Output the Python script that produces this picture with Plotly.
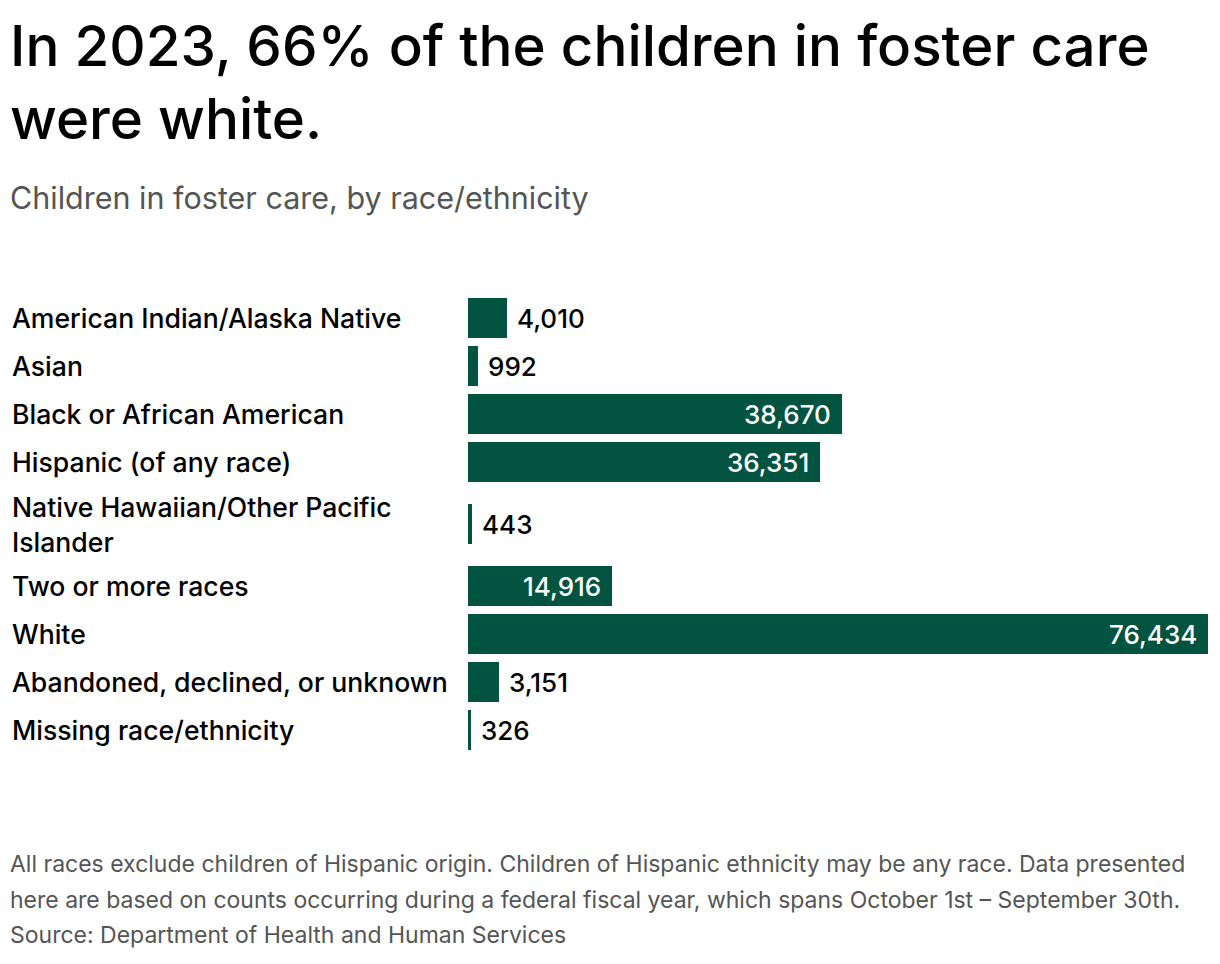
import plotly.graph_objects as go

categories = [
    "American Indian/Alaska Native",
    "Asian",
    "Black or African American",
    "Hispanic (of any race)",
    "Native Hawaiian/Other Pacific<br>Islander",
    "Two or more races",
    "White",
    "Abandoned, declined, or unknown",
    "Missing race/ethnicity",
]
values = [4010, 992, 38670, 36351, 443, 14916, 76434, 3151, 326]

title_text = "In 2023, 66% of the children in foster care<br>were white."
subtitle_text = "Children in foster care, by race/ethnicity"
footnote_lines = [
    "All races exclude children of Hispanic origin. Children of Hispanic ethnicity may be any race. Data presented",
    "here are based on counts occurring during a federal fiscal year, which spans October 1st \u2013 September 30th.",
    "Source: Department of Health and Human Services",
]

W, H = 1220, 964
FONT = "Inter"
BAR_COLOR = "#02533f"
ROW_TOP = 294
ROW_H = 48
EXTRA_LINE = 28
BAR_W = 40
X0, X1 = 468, 1208

# row centres derived from label line counts
centers = []
top = ROW_TOP
for c in categories:
    h = ROW_H + EXTRA_LINE * (c.count("<br>"))
    centers.append(top + h / 2)
    top += h

fig = go.Figure()
fig.add_trace(go.Bar(
    x=values, y=centers, orientation="h", width=BAR_W,
    marker=dict(color=BAR_COLOR, line=dict(width=0)),
    hoverinfo="skip",
))

vmax = max(values)
annotations = []
for c, v, yc in zip(categories, values, centers):
    annotations.append(dict(
        x=10 / W, xref="paper", y=yc, yref="y", text=c, showarrow=False,
        xanchor="left", yanchor="middle", align="left",
        font=dict(family=FONT, size=26.6, color="#000000", weight=500),
    ))
    inside = v > 0.12 * vmax
    annotations.append(dict(
        x=v, xref="x", y=yc, yref="y", text=f"{v:,}", showarrow=False,
        xanchor="right" if inside else "left", yanchor="middle",
        xshift=-9 if inside else 8,
        font=dict(family=FONT, size=26, color="#ffffff" if inside else "#000000", weight=500),
    ))

annotations.append(dict(
    x=8 / W, xref="paper", y=9, yref="y", text=title_text, showarrow=False,
    xanchor="left", yanchor="top", align="left",
    font=dict(family=FONT, size=56.5, color="#000000", weight=500),
))
annotations.append(dict(
    x=8 / W, xref="paper", y=197, yref="y", text=subtitle_text, showarrow=False,
    xanchor="left", yanchor="middle", align="left",
    font=dict(family=FONT, size=30.5, color="#555555"),
))
for i, line in enumerate(footnote_lines):
    annotations.append(dict(
        x=8 / W, xref="paper", y=864 + 35.5 * i, yref="y", text=line, showarrow=False,
        xanchor="left", yanchor="middle", align="left",
        font=dict(family=FONT, size=23, color="#555555"),
    ))

fig.update_layout(
    width=W, height=H,
    margin=dict(l=0, r=0, t=0, b=0),
    paper_bgcolor="#ffffff", plot_bgcolor="#ffffff",
    showlegend=False,
    xaxis=dict(domain=[X0 / W, X1 / W], range=[0, vmax], visible=False, fixedrange=True),
    yaxis=dict(domain=[0, 1], range=[H, 0], visible=False, fixedrange=True),
    annotations=annotations,
    bargap=0,
)

fig.write_html("out.html", config={"displayModeBar": False})
